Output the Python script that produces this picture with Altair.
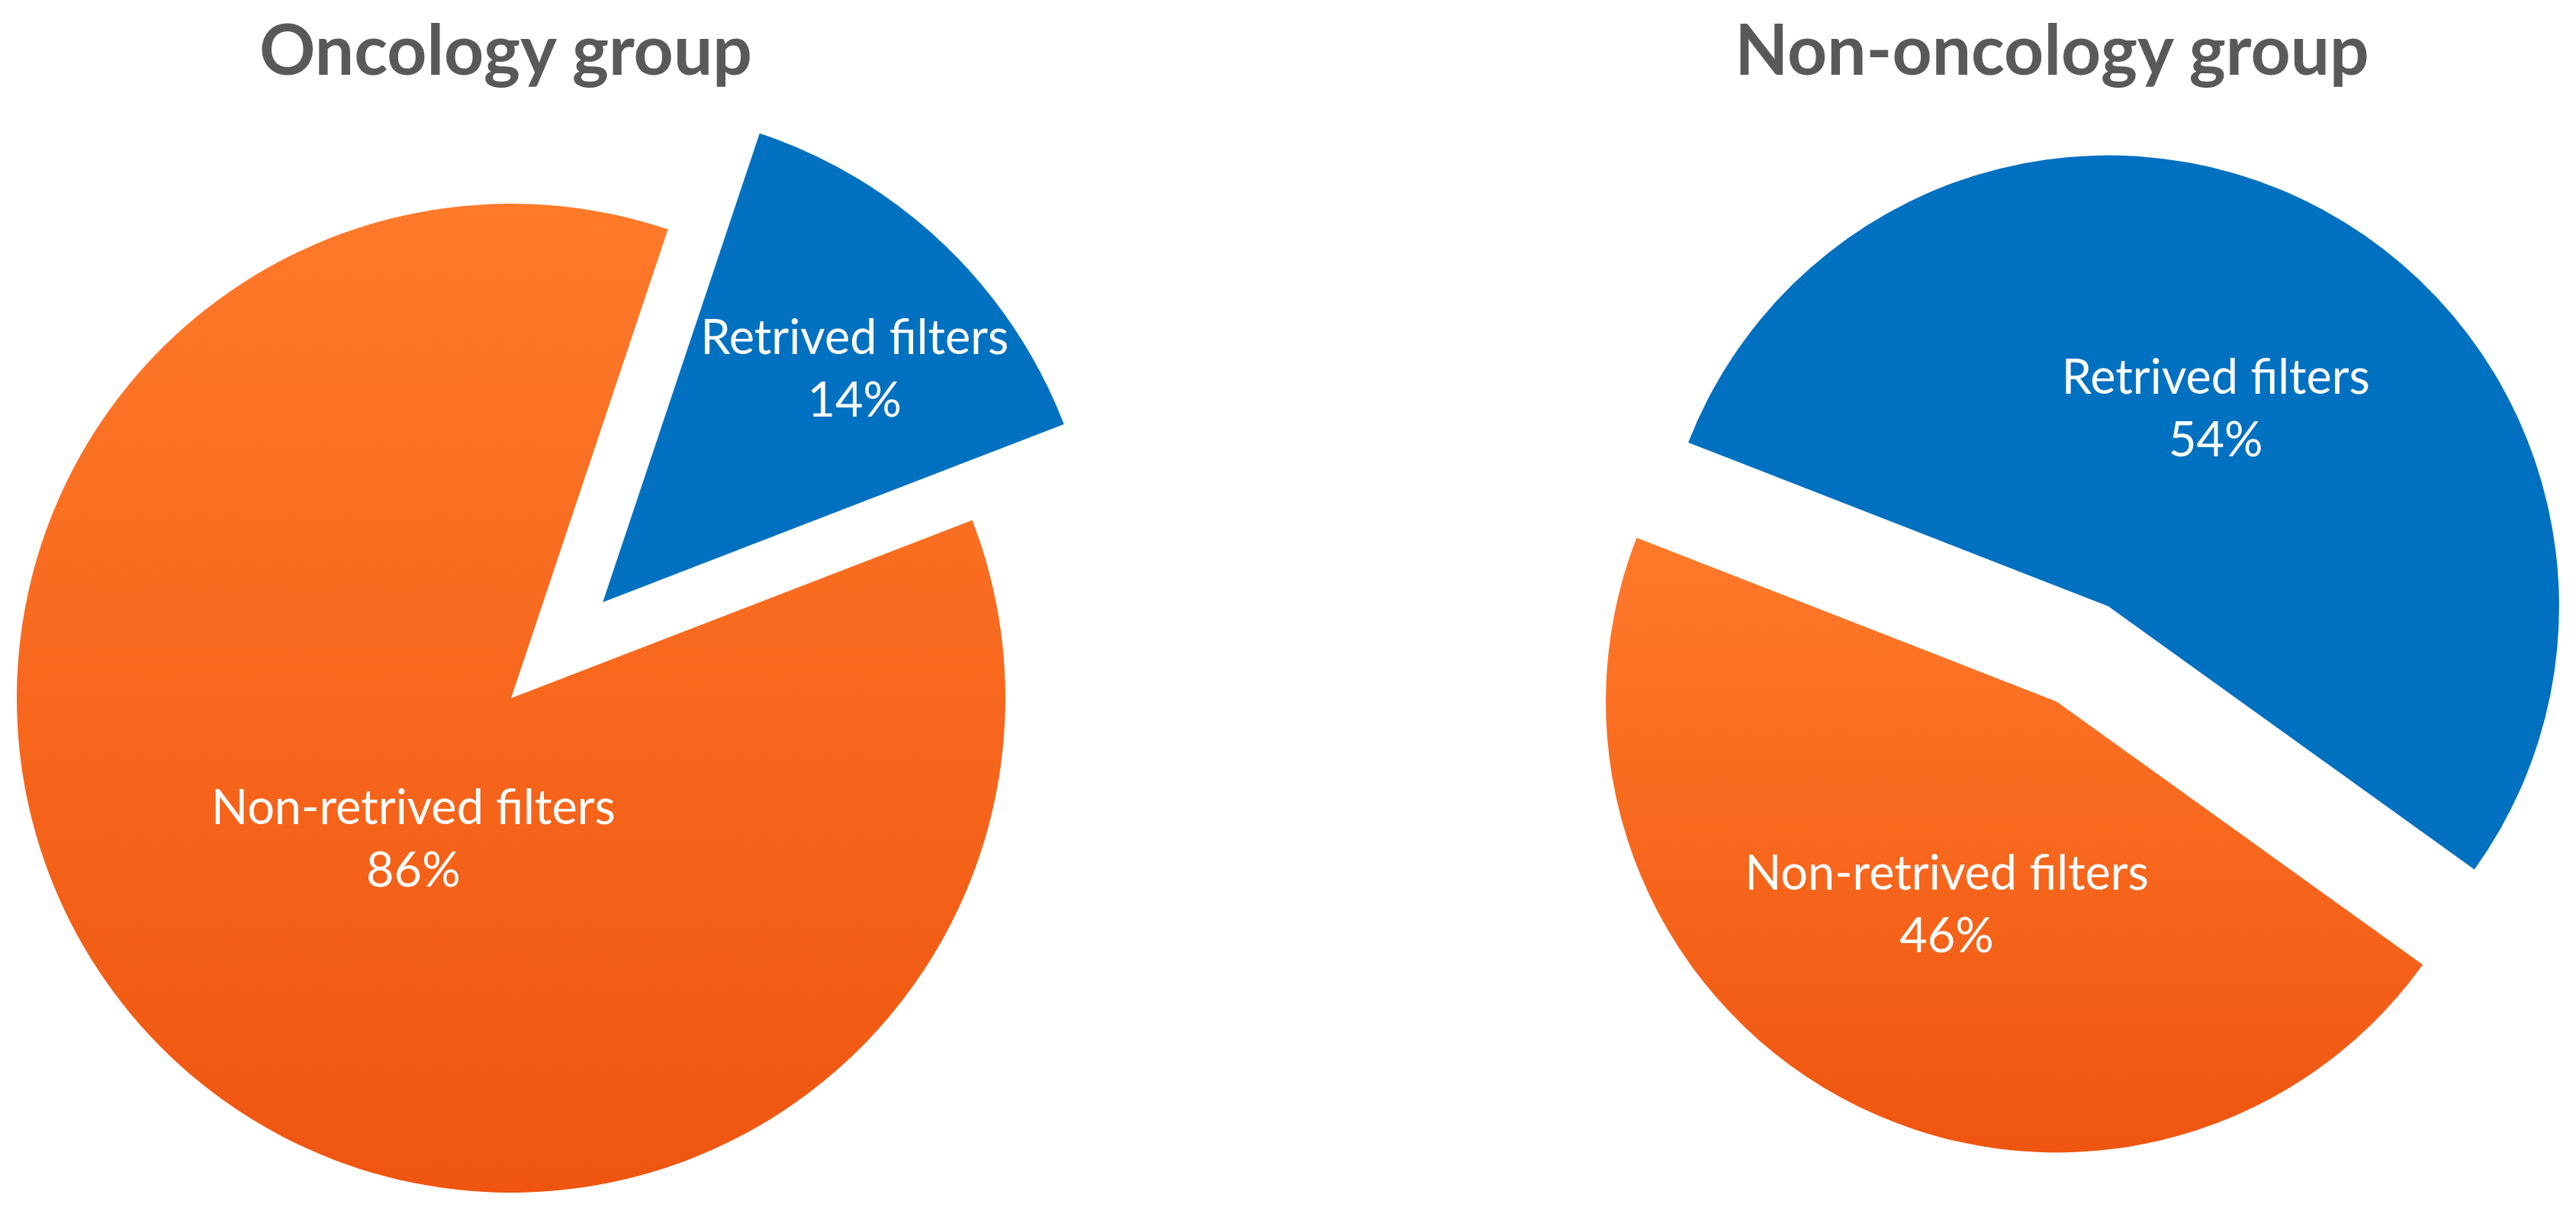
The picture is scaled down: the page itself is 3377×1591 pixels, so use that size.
import math
import altair as alt
import pandas as pd

# ---------------- data ----------------
categories = ["Retrived filters", "Non-retrived filters"]
oncology_values = [14, 86]
non_oncology_values = [54, 46]
titles = ["Oncology group", "Non-oncology group"]

# ---------------- layout / style ----------------
W, H = 3361, 1575
BLUE = "#0070C0"
ORANGE = {
    "gradient": "linear", "x1": 0, "y1": 0, "x2": 0, "y2": 1,
    "stops": [{"offset": 0, "color": "#FF7A2A"}, {"offset": 1, "color": "#EF5510"}],
}
FONT = "Lato"
LABEL_LH = 82

pies = [
    dict(values=oncology_values, title=titles[0], cx=662, cy=907, r=648, start=18.5,
         explode=[174, 0], lab_off=[3.7, -9.3], lab_frac=[0.692, 0.35], tx=655, ty=90),
    dict(values=non_oncology_values, title=titles[1], cx=2722, cy=849, r=591, start=-68.7,
         explode=[71, 71], lab_off=[0.3, -0.3], lab_frac=[0.495, 0.516], tx=2682, ty=90),
]

IS_BLUE = "datum.category == 'Retrived filters'"


def pie_layers(p):
    df = pd.DataFrame({"category": categories, "value": p["values"], "order": [0, 1]})
    df["label"] = [f"{c}\n{v}%" for c, v in zip(categories, p["values"])]
    a0 = math.radians(p["start"])
    base = (
        alt.Chart(df)
        .transform_window(cum="sum(value)", sort=[alt.SortField("order")], frame=[None, 0])
        .transform_joinaggregate(total="sum(value)")
        .transform_calculate(
            mid=f"{a0} + 2*PI*(datum.cum - datum.value/2)/datum.total",
            ex=f"{IS_BLUE} ? {p['explode'][0]} : {p['explode'][1]}",
        )
        .transform_calculate(
            px=f"{p['cx']} + datum.ex*sin(datum.mid)",
            py=f"{p['cy']} - datum.ex*cos(datum.mid)",
            la=f"datum.mid + PI/180*({IS_BLUE} ? {p['lab_off'][0]} : {p['lab_off'][1]})",
            lr=f"{p['r']}*({IS_BLUE} ? {p['lab_frac'][0]} : {p['lab_frac'][1]})",
        )
        .transform_calculate(
            lx="datum.px + datum.lr*sin(datum.la)",
            ly="datum.py - datum.lr*cos(datum.la)",
        )
    )
    arcs = base.mark_arc(radius=p["r"]).encode(
        theta=alt.Theta("value:Q", stack=True,
                        scale=alt.Scale(range=[a0, a0 + 2 * math.pi])),
        order=alt.Order("order:Q"),
        x=alt.X("px:Q", scale=None, axis=None),
        y=alt.Y("py:Q", scale=None, axis=None),
        color=alt.condition(IS_BLUE, alt.value(BLUE), alt.value(ORANGE)),
    )
    labels = base.mark_text(
        font=FONT, fontSize=63, color="white", lineBreak="\n", lineHeight=LABEL_LH,
        align="center", baseline="middle", dy=-LABEL_LH / 2,
    ).encode(
        text="label:N",
        x=alt.X("lx:Q", scale=None, axis=None),
        y=alt.Y("ly:Q", scale=None, axis=None),
    )
    title = alt.Chart(pd.DataFrame({"t": [p["title"]]})).mark_text(
        font=FONT, fontSize=91, fontWeight="bold", color="#595959",
        align="center", baseline="alphabetic",
    ).encode(text="t:N", x=alt.value(p["tx"]), y=alt.value(p["ty"]))
    return [arcs, labels, title]


layers = []
for p in pies:
    layers += pie_layers(p)

chart = (
    alt.layer(*layers)
    .resolve_scale(theta="independent")
    .properties(width=W, height=H, padding=0,
                autosize=alt.AutoSizeParams(type="none"), background="white")
    .configure_view(stroke=None)
)

chart.save("out.html", embed_options={"renderer": "svg", "actions": False})
